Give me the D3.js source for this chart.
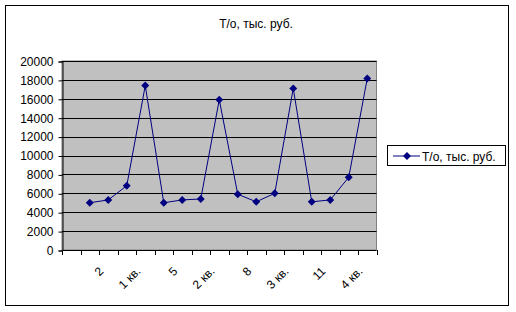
<!DOCTYPE html>
<html>
<head>
<meta charset="utf-8">
<script src="https://cdn.jsdelivr.net/npm/d3@7"></script>
<style>
  body { margin: 0; background: #fff; }
  text { font-family: "Liberation Sans", Arial, sans-serif; }
</style>
</head>
<body>
<svg id="plot" width="516" height="312"></svg>
<script>
//data: categories (first slot is empty), series values
let categories = ["", "1", "2", "3", "1 кв.", "4", "5", "6", "2 кв.", "7", "8", "9", "3 кв.", "10", "11", "12", "4 кв."];
let values = [null, 5000, 5300, 6800, 17400, 5000, 5300, 5400, 15900, 5900, 5100, 6000, 17100, 5100, 5300, 7700, 18150];
let yTicks = [0, 2000, 4000, 6000, 8000, 10000, 12000, 14000, 16000, 18000, 20000];
let seriesName = "Т/о, тыс. руб.";
let chartTitle = "Т/о, тыс. руб.";

let svg = d3.select("#plot");

//plot area bounds
let plot_left = 62, plot_right = 376.5, plot_top = 61, plot_bottom = 250;

//outer chart frame
svg.append("rect")
  .attr("x", 5.5).attr("y", 5.5)
  .attr("width", 503).attr("height", 300)
  .attr("fill", "#fff").attr("stroke", "#000");

//scales
let x_scale = d3.scaleBand(d3.range(categories.length), [plot_left, plot_right]).padding(0);
let y_scale = d3.scaleLinear([0, 20000], [plot_bottom, plot_top]);

//gray plot background
svg.append("rect")
  .attr("x", plot_left).attr("y", plot_top)
  .attr("width", plot_right - plot_left).attr("height", plot_bottom - plot_top)
  .attr("fill", "#c0c0c0").attr("stroke", "#808080");

//horizontal gridlines
svg.append("g")
  .selectAll("line")
  .data(yTicks.filter(d => d > 0))
  .join("line")
  .attr("x1", plot_left).attr("x2", plot_right)
  .attr("y1", d => Math.round(y_scale(d)) + 0.5)
  .attr("y2", d => Math.round(y_scale(d)) + 0.5)
  .attr("stroke", "#000");

//y axis
let yAxis = d3.axisLeft(y_scale).tickValues(yTicks).tickSize(4).tickPadding(5).tickFormat(d3.format("d"));
let y_ax = svg.append("g")
  .attr("transform", `translate(${plot_left + 0.5},0.5)`)
  .call(yAxis);
y_ax.select(".domain").attr("stroke", "#000");
y_ax.selectAll("text").attr("font-size", 12).attr("fill", "#000");

//x axis: tick marks at every category boundary
let bounds = d3.range(categories.length + 1).map(i => i < categories.length ? x_scale(i) : x_scale(i - 1) + x_scale.bandwidth());
let x_ax = svg.append("g");
x_ax.append("line")
  .attr("x1", plot_left).attr("x2", plot_right)
  .attr("y1", plot_bottom + 0.5).attr("y2", plot_bottom + 0.5)
  .attr("stroke", "#000");
x_ax.selectAll("line.tick")
  .data(bounds)
  .join("line")
  .attr("class", "tick")
  .attr("x1", d => Math.round(d) + 0.5).attr("x2", d => Math.round(d) + 0.5)
  .attr("y1", plot_bottom).attr("y2", plot_bottom + 5)
  .attr("stroke", "#000");

//rotated labels, every second category
x_ax.selectAll("text")
  .data(d3.range(0, categories.length, 2).filter(i => categories[i] !== ""))
  .join("text")
  .attr("text-anchor", "end")
  .attr("font-size", 12)
  .attr("transform", i => `translate(${x_scale(i) + x_scale.bandwidth() / 2 - 4},${plot_bottom + 22}) rotate(-45)`)
  .text(i => categories[i]);

//the line
let pts = values.map((v, i) => ({i: i, v: v})).filter(d => d.v !== null);
let line = d3.line()
  .x(d => x_scale(d.i) + x_scale.bandwidth() / 2)
  .y(d => y_scale(d.v));
svg.append("path")
  .datum(pts)
  .attr("d", line)
  .attr("fill", "none")
  .attr("stroke", "#000080")
  .attr("stroke-width", 1);

//diamond markers
let diamond = d3.symbol(d3.symbolDiamond2, 40);
svg.append("g")
  .selectAll("path")
  .data(pts)
  .join("path")
  .attr("d", diamond)
  .attr("transform", d => `translate(${x_scale(d.i) + x_scale.bandwidth() / 2},${y_scale(d.v)})`)
  .attr("fill", "#000080");

//title
svg.append("text")
  .attr("x", 256).attr("y", 28)
  .attr("text-anchor", "middle")
  .attr("font-size", 12)
  .text(chartTitle);

//legend
let leg = svg.append("g").attr("transform", "translate(387,145)");
leg.append("rect")
  .attr("x", 0.5).attr("y", 0.5)
  .attr("width", 118).attr("height", 20)
  .attr("fill", "#fff").attr("stroke", "#000");
leg.append("line")
  .attr("x1", 6).attr("x2", 33).attr("y1", 11).attr("y2", 11)
  .attr("stroke", "#000080");
leg.append("path")
  .attr("d", diamond)
  .attr("transform", "translate(20,11)")
  .attr("fill", "#000080");
leg.append("text")
  .attr("x", 35).attr("y", 15.5)
  .attr("font-size", 12)
  .text(seriesName);
</script>
</body>
</html>
